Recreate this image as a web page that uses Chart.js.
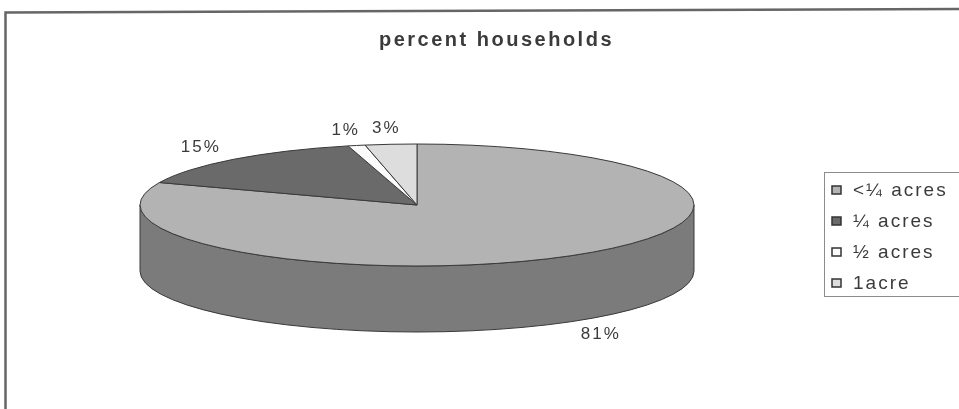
<!DOCTYPE html>
<html>
<head>
<meta charset="utf-8">
<script src="https://cdn.jsdelivr.net/npm/chart.js@4.4.0/dist/chart.umd.min.js"></script>
<style>
  html, body { margin: 0; padding: 0; background: #fff; }
  canvas { display: block; }
</style>
</head>
<body>
<canvas id="pie3d" width="959" height="409"></canvas>
<script>
// data
const categories = ['<¼ acres', '¼ acres', '½ acres', '1acre'];
const percentHouseholds = [81, 15, 1, 3];
const chartTitle = 'percent households';

// greys of the scan
const topColors  = ['#b3b3b3', '#6a6a6a', '#fbfbfb', '#dddddd'];
const sideColors = ['#7b7b7b', '#4f4f4f', '#d0d0d0', '#ababab'];
const edgeColor  = '#3a3a3a';
const textColor  = '#3b3b3b';
const fontFamily = '"Liberation Sans", Arial, sans-serif';

// squashed pie: flat circle from Chart.js -> ellipse + depth
const PIE_RX = 277, PIE_RY = 61, PIE_DEPTH = 66;

const frameAndLegend = {
  id: 'frameAndLegend',
  beforeDraw(chart) {
    const ctx = chart.ctx;
    ctx.save();
    ctx.fillStyle = '#ffffff';
    ctx.fillRect(0, 0, chart.width, chart.height);
    // outer frame of the scanned figure (only top + left show)
    ctx.strokeStyle = '#666666';
    ctx.lineWidth = 2.5;
    ctx.beginPath();
    ctx.moveTo(5.5, chart.height);
    ctx.lineTo(5.5, 12.5);
    ctx.lineTo(chart.width, 9);
    ctx.stroke();
    ctx.restore();
    ctx.letterSpacing = '2.5px'; // title looks stretched in the scan
  },
  afterDraw(chart) {
    const ctx = chart.ctx;
    const arcs = chart.getDatasetMeta(0).data;
    const values = chart.data.datasets[0].data;
    const total = values.reduce((a, b) => a + b, 0);
    const cx = arcs[0].x, cy = arcs[0].y;

    ctx.save();
    // percent labels
    ctx.font = '17px ' + fontFamily;
    ctx.letterSpacing = '2px';
    ctx.fillStyle = textColor;
    ctx.textAlign = 'center';
    ctx.textBaseline = 'middle';
    arcs.forEach((arc, i) => {
      const mid = (arc.startAngle + arc.endAngle) / 2;
      const c = Math.cos(mid), s = Math.sin(mid);
      const x = cx + (PIE_RX + 50) * c;
      const y = cy + (PIE_RY + 16) * s + (s > 0 ? PIE_DEPTH : 0);
      ctx.fillText(Math.round(values[i] / total * 100) + '%', x, y);
    });

    // legend
    ctx.strokeStyle = '#8c8c8c';
    ctx.lineWidth = 1;
    ctx.strokeRect(824.5, 172.5, 200, 124);
    ctx.font = '19px ' + fontFamily;
    ctx.letterSpacing = '2px';
    ctx.textAlign = 'left';
    chart.data.labels.forEach((label, i) => {
      const y = 190 + i * 31;
      ctx.fillStyle = topColors[i];
      ctx.fillRect(832, y - 4, 9, 8);
      ctx.strokeStyle = '#333333';
      ctx.lineWidth = 1.5;
      ctx.strokeRect(832, y - 4, 9, 8);
      ctx.fillStyle = textColor;
      ctx.fillText(label, 853, y + 1);
    });
    ctx.restore();
  }
};

const pie3d = {
  id: 'pie3d',
  beforeDatasetsDraw(chart) {
    const ctx = chart.ctx;
    ctx.letterSpacing = '0px';
    const arcs = chart.getDatasetMeta(0).data;
    const cx = arcs[0].x, cy = arcs[0].y;
    ctx.save();
    ctx.lineWidth = 1;
    ctx.strokeStyle = edgeColor;
    ctx.lineJoin = 'round';

    // side walls: only the front half of the ellipse is visible
    arcs.forEach((arc, i) => {
      for (let k = -1; k <= 1; k++) {
        const lo = Math.max(arc.startAngle, 2 * Math.PI * k);
        const hi = Math.min(arc.endAngle, 2 * Math.PI * k + Math.PI);
        if (hi <= lo) continue;
        ctx.beginPath();
        ctx.ellipse(cx, cy, PIE_RX, PIE_RY, 0, lo, hi);
        ctx.lineTo(cx + PIE_RX * Math.cos(hi), cy + PIE_RY * Math.sin(hi) + PIE_DEPTH);
        ctx.ellipse(cx, cy + PIE_DEPTH, PIE_RX, PIE_RY, 0, hi, lo, true);
        ctx.closePath();
        ctx.fillStyle = sideColors[i];
        ctx.fill();
        ctx.stroke();
      }
    });

    // top faces
    arcs.forEach((arc) => {
      ctx.beginPath();
      ctx.moveTo(cx, cy);
      ctx.ellipse(cx, cy, PIE_RX, PIE_RY, 0, arc.startAngle, arc.endAngle);
      ctx.closePath();
      ctx.fillStyle = arc.options.backgroundColor;
      ctx.fill();
      ctx.stroke();
    });
    ctx.restore();
    return false; // skip the flat default pie
  }
};

new Chart(document.getElementById('pie3d'), {
  type: 'pie',
  data: {
    labels: categories,
    datasets: [{
      data: percentHouseholds,
      backgroundColor: topColors,
      borderColor: edgeColor,
      borderWidth: 1
    }]
  },
  options: {
    responsive: false,
    animation: false,
    devicePixelRatio: 1,
    layout: { padding: { left: 220, right: 345, top: 0, bottom: 152 } },
    plugins: {
      legend: { display: false },
      tooltip: { enabled: false },
      title: {
        display: true,
        text: chartTitle,
        align: 'end',
        color: textColor,
        font: { family: fontFamily, size: 20, weight: 'bold' },
        padding: { top: 28, bottom: 101 }
      }
    }
  },
  plugins: [frameAndLegend, pie3d]
});
</script>
</body>
</html>
